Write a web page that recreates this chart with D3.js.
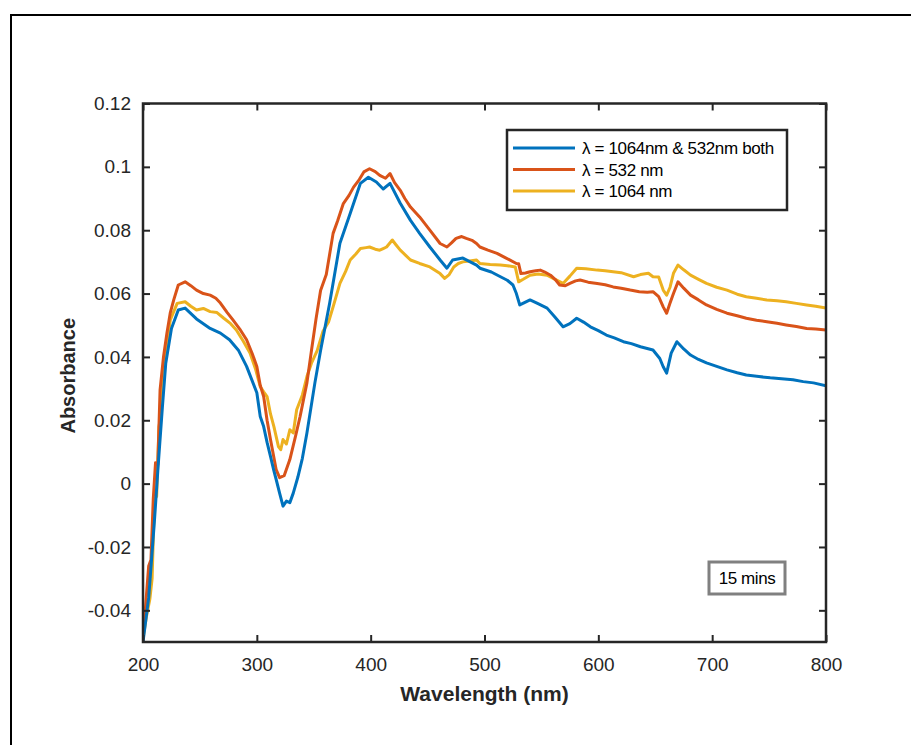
<!DOCTYPE html>
<html><head><meta charset="utf-8">
<script src="https://cdn.jsdelivr.net/npm/d3@7"></script>
<style>body{margin:0;background:#fff}svg{display:block}</style>
</head><body><svg id="c" width="911" height="745"></svg>
<script>
// ---- data ----
const seriesNames = ["λ = 1064nm & 532nm both", "λ = 532 nm", "λ = 1064 nm"];
const seriesColors = ["#0072BD", "#D95319", "#EDB120"];
const xTicks = [200, 300, 400, 500, 600, 700, 800];
const yTicks = [-0.04, -0.02, 0, 0.02, 0.04, 0.06, 0.08, 0.1, 0.12];
const yTickLabels = ["-0.04", "-0.02", "0", "0.02", "0.04", "0.06", "0.08", "0.1", "0.12"];
const annotation = "15 mins";

const wlBoth = [200,205,210,213,217,220,225,231,237,247,259,268,276,284,291,300,303,306,309,312,315,317,320,323,326,329,332,336,340,344,351,356,364,373,382,391,398,405,411,417,426,435,443,452,461,467,472,481,493,496,506,514,520,525,528,531,540,547,555,562,569,575,581,587,593,600,607,614,622,629,637,648,654,657,660,664,669,675,681,688,695,704,713,722,730,741,751,761,771,780,789,800];
const absBoth = [-0.050,-0.036,-0.012,0.004,0.024,0.038,0.049,0.0548,0.0554,0.052,0.049,0.0475,0.0454,0.042,0.037,0.0287,0.0212,0.018,0.013,0.0086,0.004,0.0013,-0.003,-0.0071,-0.0055,-0.006,-0.003,0.002,0.008,0.016,0.0318,0.042,0.057,0.0759,0.0853,0.0948,0.0967,0.0952,0.093,0.0948,0.0885,0.0831,0.079,0.0747,0.0706,0.068,0.0706,0.0712,0.069,0.068,0.0668,0.0653,0.0642,0.0627,0.060,0.0564,0.058,0.0568,0.0554,0.0525,0.0495,0.0505,0.0522,0.051,0.0495,0.0483,0.0469,0.046,0.0448,0.0442,0.0432,0.0422,0.0395,0.0369,0.0349,0.0412,0.0448,0.0425,0.0406,0.0392,0.0381,0.037,0.0359,0.035,0.0343,0.0338,0.0334,0.0331,0.0328,0.0322,0.0318,0.0309];

const wl532 = [200,202,205,207,209,211,213,215,218,221,224,227,231,237,242,247,253,259,264,268,274,279,285,291,296,300,303,306,309,312,317,320,324,329,334,338,344,348,352,356,361,367,371,376,381,385,390,394,399,404,408,413,417,421,426,430,435,443,452,461,467,471,475,480,484,489,493,496,503,511,519,528,530,532,536,540,545,549,553,558,562,566,571,575,580,584,591,599,606,613,620,628,636,643,648,653,657,660,663,666,670,675,681,688,695,704,713,722,730,739,748,757,765,774,783,791,800];
const abs532 = [-0.049,-0.040,-0.026,-0.024,-0.005,0.0066,0.006,0.0296,0.040,0.0475,0.054,0.058,0.0627,0.0637,0.0625,0.0611,0.060,0.0595,0.0585,0.057,0.054,0.0517,0.0488,0.0454,0.041,0.037,0.031,0.0275,0.020,0.0139,0.0044,0.0019,0.0025,0.0076,0.015,0.0212,0.0318,0.042,0.052,0.061,0.066,0.079,0.083,0.0884,0.091,0.0936,0.096,0.0984,0.0994,0.0985,0.0973,0.0964,0.0979,0.095,0.0926,0.090,0.0873,0.0842,0.080,0.0758,0.0747,0.076,0.0774,0.078,0.0774,0.0768,0.0758,0.0747,0.0737,0.0727,0.0712,0.0695,0.0694,0.0663,0.0665,0.0669,0.0672,0.0674,0.0668,0.0658,0.0645,0.0627,0.0625,0.0632,0.064,0.0643,0.0636,0.0632,0.0628,0.0621,0.0617,0.0611,0.0606,0.0604,0.0606,0.059,0.0558,0.0538,0.057,0.060,0.0637,0.0617,0.0595,0.058,0.0564,0.055,0.0538,0.053,0.0522,0.0516,0.0511,0.0506,0.0501,0.0496,0.049,0.0488,0.0485];

const wl1064 = [200,203,206,208,210,212,214,216,218,221,224,230,237,242,247,253,259,265,271,277,282,288,294,299,303,306,309,312,315,319,321,323,326,329,332,335,340,344,348,353,358,363,367,373,378,382,387,391,396,399,404,408,411,414,419,422,426,431,435,443,452,461,465,469,473,477,481,487,493,496,505,514,520,527,530,534,540,547,555,562,569,575,581,589,599,606,613,620,631,637,644,648,653,657,660,663,666,670,675,681,688,695,704,713,722,730,739,748,757,765,774,783,791,800];
const abs1064 = [-0.049,-0.042,-0.0365,-0.030,-0.005,-0.004,0.018,0.022,0.035,0.044,0.0517,0.0569,0.0574,0.056,0.0548,0.0553,0.0543,0.054,0.0522,0.0505,0.0485,0.045,0.0412,0.036,0.0306,0.029,0.0275,0.022,0.018,0.0117,0.0107,0.0139,0.0125,0.017,0.016,0.0233,0.028,0.0338,0.038,0.042,0.048,0.051,0.0558,0.0632,0.067,0.0706,0.0725,0.0742,0.0745,0.0747,0.074,0.0737,0.0742,0.0747,0.0769,0.0755,0.0737,0.072,0.0706,0.0695,0.0684,0.0663,0.0648,0.066,0.0684,0.0695,0.070,0.0703,0.0706,0.0695,0.0692,0.069,0.0688,0.0684,0.0637,0.0645,0.0658,0.0662,0.0658,0.0645,0.0632,0.0655,0.068,0.0678,0.0674,0.0672,0.0669,0.0666,0.0653,0.066,0.0664,0.0653,0.0652,0.0611,0.0595,0.062,0.0664,0.069,0.0675,0.0658,0.0645,0.0632,0.062,0.0611,0.0598,0.059,0.0585,0.058,0.0577,0.0574,0.0569,0.0564,0.056,0.0554];

// ---- layout ----
const svg = d3.select("#c");
const L = 143, R = 826, T = 103.5, B = 642;
const x = d3.scaleLinear().domain([200, 800]).range([L, R]);
const y = d3.scaleLinear().domain([-0.05, 0.12]).range([B, T]);
const axisColor = "#262626";
const font = "'Liberation Sans', Arial, sans-serif";

// outer frame
svg.append("rect").attr("x", 11).attr("y", 15).attr("width", 1000).attr("height", 900)
  .attr("fill", "none").attr("stroke", "#000").attr("stroke-width", 2);

// clip
svg.append("defs").append("clipPath").attr("id", "clip")
  .append("rect").attr("x", L).attr("y", T).attr("width", R - L).attr("height", B - T);

// lines
const series = [
  {wl: wlBoth, ab: absBoth},
  {wl: wl532, ab: abs532},
  {wl: wl1064, ab: abs1064}
];
const line = d3.line().x(d => x(d[0])).y(d => y(d[1]));
const g = svg.append("g").attr("clip-path", "url(#clip)");
[2, 1, 0].forEach(i => {
  const s = series[i];
  g.append("path").datum(s.wl.map((w, k) => [w, s.ab[k]]))
    .attr("d", line).attr("fill", "none").attr("stroke", seriesColors[i])
    .attr("stroke-width", 3).attr("stroke-linejoin", "round");
});

// axes
const tl = 7;
const axB = svg.append("g").attr("transform", `translate(0,${B})`)
  .call(d3.axisBottom(x).tickValues(xTicks).tickSizeInner(-tl).tickSizeOuter(0).tickPadding(16));
const axT = svg.append("g").attr("transform", `translate(0,${T})`)
  .call(d3.axisTop(x).tickValues(xTicks).tickSizeInner(-tl).tickSizeOuter(0).tickFormat(""));
const axL = svg.append("g").attr("transform", `translate(${L},0)`)
  .call(d3.axisLeft(y).tickValues(yTicks).tickSizeInner(-tl).tickSizeOuter(0).tickPadding(12)
    .tickFormat((d, i) => yTickLabels[i]));
const axR = svg.append("g").attr("transform", `translate(${R},0)`)
  .call(d3.axisRight(y).tickValues(yTicks).tickSizeInner(-tl).tickSizeOuter(0).tickFormat(""));
[axB, axT, axL, axR].forEach(a => {
  a.select(".domain").remove();
  a.selectAll("line").attr("stroke", axisColor).attr("stroke-width", 2);
  a.selectAll("text").attr("fill", axisColor).style("font-family", font).style("font-size", "19px");
});
svg.append("rect").attr("x", L).attr("y", T).attr("width", R - L).attr("height", B - T)
  .attr("fill", "none").attr("stroke", axisColor).attr("stroke-width", 2.5);

// axis labels
svg.append("text").attr("x", (L + R) / 2).attr("y", 701).attr("text-anchor", "middle")
  .style("font-family", font).style("font-size", "21px").style("font-weight", "bold")
  .attr("fill", axisColor).text("Wavelength (nm)");
svg.append("text").attr("transform", `translate(75,${(T + B) / 2 + 3}) rotate(-90)`)
  .attr("text-anchor", "middle")
  .style("font-family", font).style("font-size", "20px").style("font-weight", "bold")
  .attr("fill", axisColor).text("Absorbance");

// legend
const lg = svg.append("g");
lg.append("rect").attr("x", 507).attr("y", 130).attr("width", 280).attr("height", 80)
  .attr("fill", "#fff").attr("stroke", axisColor).attr("stroke-width", 2.5);
seriesNames.forEach((n, i) => {
  const yy = 148 + i * 21.5;
  lg.append("line").attr("x1", 513).attr("x2", 575).attr("y1", yy).attr("y2", yy)
    .attr("stroke", seriesColors[i]).attr("stroke-width", 3);
  lg.append("text").attr("x", 582).attr("y", yy + 6).text(n)
    .style("font-family", font).style("font-size", "17px").style("letter-spacing", "-0.35px")
    .attr("fill", "#000");
});

// annotation box
svg.append("rect").attr("x", 709).attr("y", 562).attr("width", 76).attr("height", 32)
  .attr("fill", "#fff").attr("stroke", "#808080").attr("stroke-width", 3);
svg.append("text").attr("x", 747).attr("y", 584).attr("text-anchor", "middle")
  .style("font-family", font).style("font-size", "17px").style("letter-spacing", "-0.4px")
  .attr("fill", "#000").text(annotation);
</script></body></html>
